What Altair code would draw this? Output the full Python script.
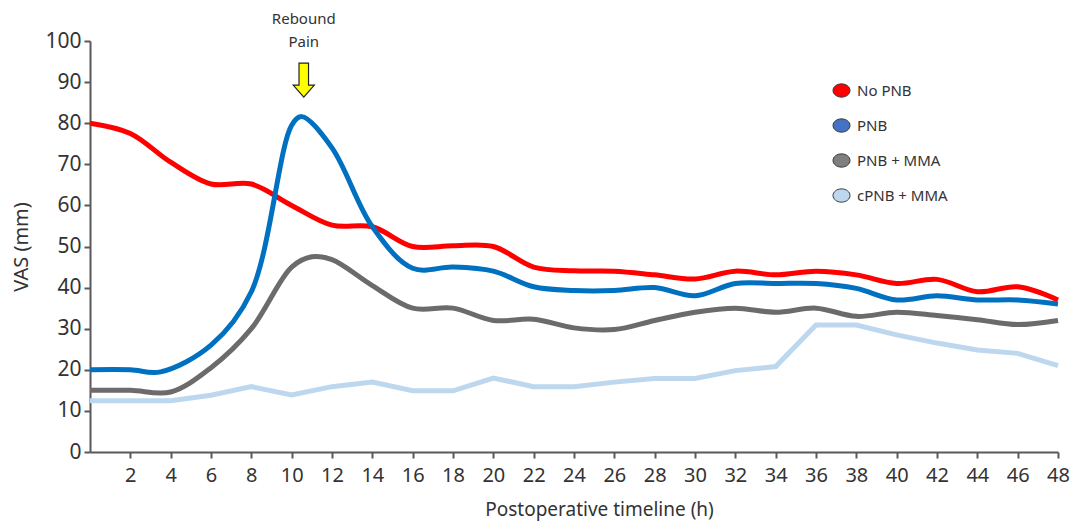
import altair as alt
import pandas as pd

series_names = ["No PNB", "PNB", "PNB + MMA", "cPNB + MMA"]
line_colors = ["#FF0000", "#0070C0", "#6D6A6B", "#BDD7EE"]
legend_fills = ["#FF0000", "#4472C4", "#7F7F7F", "#BDD7EE"]

hours_red = [0, 2, 4, 6, 8, 10, 12, 14, 16, 18, 20, 22, 24, 26, 28, 30, 32, 34, 36, 38, 40, 42, 44, 46, 48]
vas_red = [80, 77.5, 70.5, 65.2, 65.2, 60, 55.2, 54.8, 50, 50.2, 50, 45, 44.1, 44, 43.1, 42.1, 44, 43.1, 44, 43.1, 41, 42, 39, 40.2, 37]

hours_blue = [0, 2, 3.5, 6, 8, 10, 10.5, 12, 14, 16, 18, 20, 22, 24, 26, 28, 30, 32, 34, 36, 38, 40, 42, 44, 46, 48]
vas_blue = [20, 20, 19.5, 26, 39, 79.5, 81.6, 74, 54.8, 44.7, 45, 44, 40.2, 39.3, 39.3, 40, 38, 41, 41, 41, 39.8, 37, 38, 37, 37, 36]

hours_gray = [0, 2, 4, 6, 8, 10, 11, 12, 14, 16, 18, 20, 22, 24, 26, 28, 30, 32, 34, 36, 38, 40, 42, 44, 46, 48]
vas_gray = [15, 15, 14.6, 20.5, 30, 45, 47.5, 46.8, 40.5, 35, 35, 32, 32.3, 30.2, 29.8, 32, 34, 35, 34, 35, 33, 34, 33.2, 32.2, 31, 32]

hours_light = [0, 2, 4, 6, 8, 10, 12, 14, 16, 18, 20, 22, 24, 26, 28, 30, 32, 34, 36, 38, 40, 42, 44, 46, 48]
vas_light = [12.5, 12.5, 12.5, 13.8, 15.9, 13.9, 15.9, 17, 14.9, 14.9, 18, 15.9, 15.9, 17, 17.9, 17.9, 19.8, 20.8, 30.9, 30.9, 28.5, 26.5, 24.8, 24, 21]

x_ticks = list(range(2, 49, 2))
y_ticks = list(range(0, 101, 10))

annot_x = [10.6]
annot_text_y = [105.3]
annot_arrow_y = [90.5]
annot_label = ["Rebound\nPain"]

rows = []
for name, hs, vs in zip(series_names,
                        [hours_red, hours_blue, hours_gray, hours_light],
                        [vas_red, vas_blue, vas_gray, vas_light]):
    for h, v in zip(hs, vs):
        rows.append({"series": name, "hour": h, "vas": v})
df = pd.DataFrame(rows)

FONT = "Noto Sans"
AX = "#595959"

x_enc = alt.X("hour:Q",
              scale=alt.Scale(domain=[0, 48], nice=False, zero=False),
              axis=alt.Axis(values=x_ticks, title="Postoperative timeline (h)",
                            grid=False, domainColor=AX, domainWidth=2,
                            tickColor=AX, tickWidth=2, tickSize=6,
                            labelFontSize=20, labelColor="#333333", labelFont=FONT,
                            labelPadding=7, labelFlush=False,
                            titleFontSize=19, titleFont=FONT, titleFontWeight="normal",
                            titleColor="#333333", titlePadding=15, titleX=509))
y_enc = alt.Y("vas:Q",
              scale=alt.Scale(domain=[0, 100], nice=False),
              axis=alt.Axis(values=y_ticks, title="VAS (mm)",
                            grid=False, domainColor=AX, domainWidth=2,
                            tickColor=AX, tickWidth=2, tickSize=6,
                            labelFontSize=21, labelColor="#333333", labelFont=FONT,
                            labelPadding=3,
                            titleFontSize=20, titleFont=FONT, titleFontWeight="normal",
                            titleColor="#333333", titlePadding=13))

color_scale = alt.Scale(domain=series_names, range=line_colors)

smooth = alt.Chart(df).transform_filter(
    alt.datum.series != "cPNB + MMA"
).mark_line(strokeWidth=5, interpolate="catmull-rom").encode(
    x=x_enc, y=y_enc,
    color=alt.Color("series:N", scale=color_scale, legend=None),
    detail="series:N",
)

straight = alt.Chart(df).transform_filter(
    alt.datum.series == "cPNB + MMA"
).mark_line(strokeWidth=5, interpolate="linear").encode(
    x="hour:Q", y="vas:Q",
    color=alt.Color("series:N", scale=color_scale, legend=None),
)

ellipse = "M -1 0 A 1 0.78 0 1 1 1 0 A 1 0.78 0 1 1 -1 0 Z"

legend_pts = alt.Chart(df).mark_point(filled=True, opacity=0).encode(
    x="hour:Q", y="vas:Q",
    fill=alt.Fill("series:N",
                  scale=alt.Scale(domain=series_names, range=legend_fills),
                  legend=alt.Legend(title=None, orient="none", legendX=742, legendY=40,
                                    symbolType=ellipse, symbolSize=290,
                                    symbolOpacity=1, symbolStrokeColor="#3a3a3a",
                                    symbolStrokeWidth=1,
                                    labelFontSize=15, labelFont=FONT, labelColor="#333333",
                                    labelOffset=6, rowPadding=16, padding=0)),
)

annot_df = pd.DataFrame({"hour": annot_x, "ty": annot_text_y, "ay": annot_arrow_y, "label": annot_label})

arrow_path = "M -0.28 -1 L 0.28 -1 L 0.28 0.3 L 0.62 0.3 L 0 1 L -0.62 0.3 L -0.28 0.3 Z"
arrow = alt.Chart(annot_df).mark_point(shape=arrow_path, size=1156, filled=True,
                                      fill="#FFFF00", stroke="#222222", strokeWidth=1.2,
                                      opacity=1).encode(
    x="hour:Q", y=alt.Y("ay:Q"))

text = alt.Chart(annot_df).mark_text(fontSize=15, font=FONT, color="#333333",
                                     lineBreak="\n", baseline="middle", align="center",
                                     lineHeight=23).encode(
    x="hour:Q", y=alt.Y("ty:Q"), text="label:N")

chart = alt.layer(smooth, straight, legend_pts, arrow, text).resolve_scale(
    color="independent"
).properties(
    width=968, height=411,
    padding={"left": 82, "top": 33, "right": 12, "bottom": 71},
    autosize=alt.AutoSizeParams(type="none"),
    background="white",
).configure_view(stroke=None)

chart.save("out.html", embed_options={"renderer": "svg", "actions": False})
